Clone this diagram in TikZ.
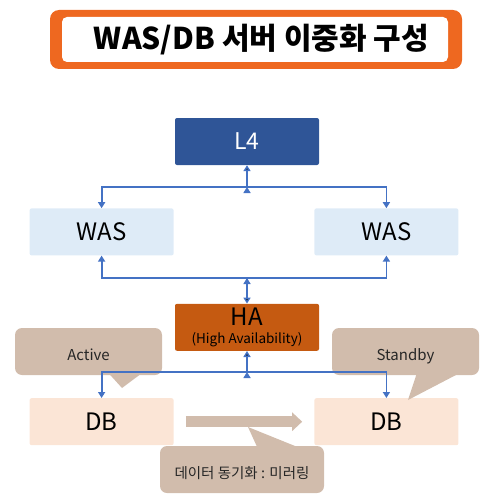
\documentclass[tikz,border=0pt]{standalone}
\usepackage{fontspec}
\setmainfont{Noto Sans CJK KR}
\usepackage{tikz}
\usetikzlibrary{arrows.meta,positioning}

\definecolor{titleorange}{RGB}{238,104,32}
\definecolor{l4blue}{RGB}{47,85,151}
\definecolor{wasblue}{RGB}{222,235,247}
\definecolor{haorange}{RGB}{197,90,17}
\definecolor{dbpeach}{RGB}{251,229,214}
\definecolor{linkblue}{RGB}{68,114,196}
\definecolor{calltan}{RGB}{209,188,172}

\tikzset{
    box/.style={rectangle, rounded corners=2pt, minimum width=144pt, minimum height=47pt, inner sep=0pt},
    bubble/.style={rectangle, rounded corners=7pt, fill=calltan, minimum height=47pt, inner sep=0pt,
        text height=18pt, text depth=0pt, text=black!85, font=\fontsize{15}{17}\selectfont},
    link/.style={draw=linkblue, line width=1.8pt, ->},
}

\begin{document}
\begin{tikzpicture}[x=1pt, y=-1pt, >={Triangle[width=7pt,length=6pt]}]
    \useasboundingbox (0,0) rectangle (499,503);

    % Title
    \node [fill=titleorange, rounded corners=9pt, minimum width=412pt, minimum height=59pt] (frame) at (256,39.5) {};
    \node [fill=white, rounded corners=5pt, minimum width=386pt, minimum height=45pt] (inner) at (255,39.5) {};
    \node [font=\fontsize{30}{34}\selectfont\bfseries] (title) at (261.5,40) {WAS/DB 서버 이중화 구성};

    % Nodes {l4, was1, was2, ha, db1, db2}
    \node [box, fill=l4blue, text=white, font=\fontsize{23}{26}\selectfont] (l4) at (247,141.5) {L4};
    \node [box, fill=wasblue, font=\fontsize{24}{28}\selectfont] (was1) [below left=43pt and 1pt of l4]  {WAS};
    \node [box, fill=wasblue, font=\fontsize{24}{28}\selectfont] (was2) [below right=43pt and -5pt of l4] {WAS};
    \node [box, fill=haorange, align=center, font=\fontsize{13.5}{18}\selectfont] (ha) [below right=48pt and 1pt of was1]
        {{\fontsize{24}{18}\selectfont HA}\\(High Availability)};
    \node [box, fill=dbpeach, font=\fontsize{24}{28}\selectfont] (db1) [below left=47pt and 1pt of ha]  {DB};
    \node [box, fill=dbpeach, font=\fontsize{24}{28}\selectfont] (db2) [below right=47pt and -5pt of ha] {DB};

    % Mirroring arrow
    \draw [calltan, line width=11pt, shorten <=12pt, shorten >=12pt,
        -{Triangle[width=18pt,length=10pt]}] (db1) -- (db2);

    % Callouts
    \node [bubble, minimum width=147pt] (act) at (88.5,351.5) {Active};
    \node [bubble, minimum width=147pt] (stb) at (405.5,351.5) {Standby};
    \node [bubble, minimum width=164pt, font=\fontsize{14.5}{16}\selectfont] (mir) at (242,469.5) {데이터 동기화 : 미러링};
    \coordinate (acttip) at (122,388);
    \coordinate (stbtip) at (408,400);
    \coordinate (mirtip) at (248,427);
    \fill [calltan] ([xshift=21pt,yshift=1pt]act.south) -- (acttip) -- ([xshift=52pt,yshift=1pt]act.south) -- cycle;
    \fill [calltan] ([xshift=11pt,yshift=1pt]stb.south) -- (stbtip) -- ([xshift=52pt,yshift=1pt]stb.south) -- cycle;
    \fill [calltan] ([xshift=15pt,yshift=-1pt]mir.north) -- (mirtip) -- ([xshift=55pt,yshift=-1pt]mir.north) -- cycle;

    % Paths
    \coordinate (j1) at (247,187);
    \coordinate (j2) at (247,278);
    \coordinate (j3) at (247,372);
    \path [link] (j1) edge (l4);
    \draw [link] (j1) -| (was1);
    \draw [link] (j1) -| (was2);
    \draw [link] (j2) -| (was1);
    \draw [link] (j2) -| (was2);
    \path [link] (j2) edge (ha);
    \path [link] (j3) edge (ha);
    \draw [link] (j3) -| (db1);
    \draw [link] (j3) -| (db2);

\end{tikzpicture}
\end{document}
